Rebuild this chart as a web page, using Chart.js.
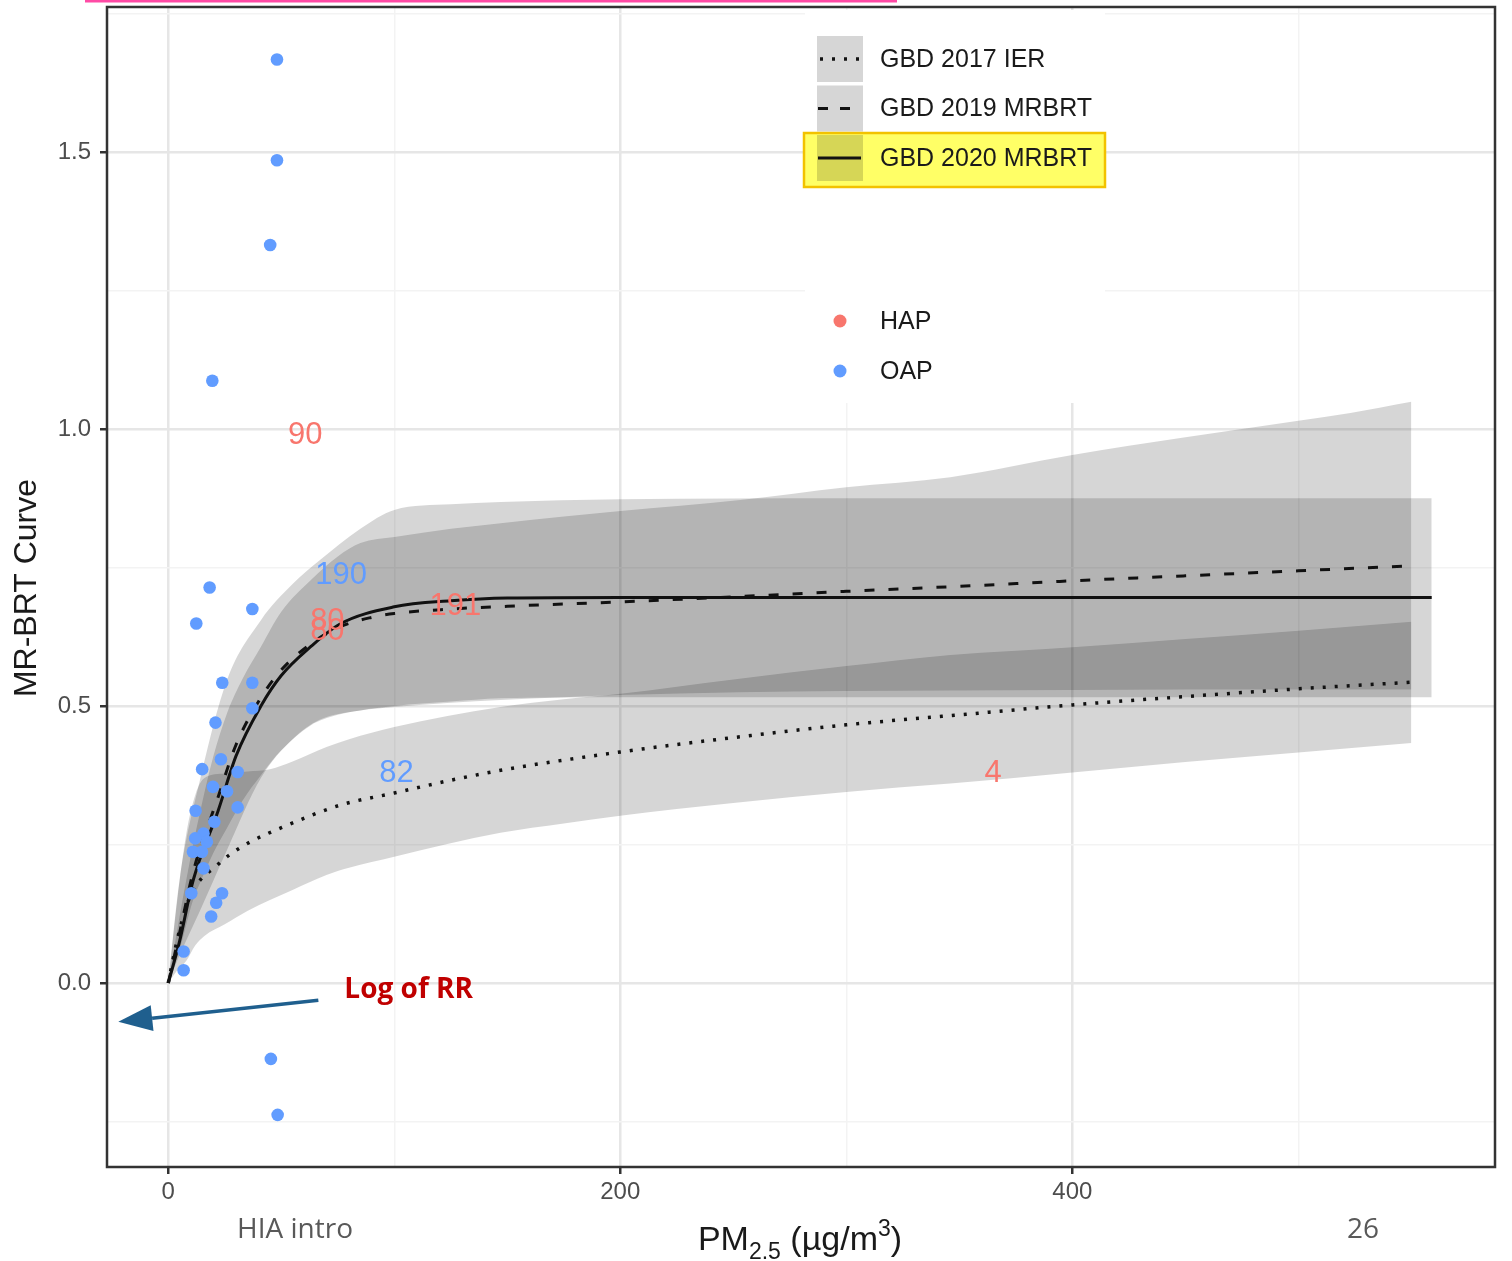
<!DOCTYPE html>
<html>
<head>
<meta charset="utf-8">
<script src="https://cdn.jsdelivr.net/npm/chart.js@4.4.1/dist/chart.umd.min.js"></script>
<style>
html,body{margin:0;padding:0;background:#fff;}
#wrap{position:relative;width:1512px;height:1261px;}
</style>
</head>
<body>
<div id="wrap"><canvas id="c" width="1512" height="1261"></canvas></div>
<script>
// ---------------- DATA ----------------
// OAP study points (PM2.5, log RR)
const oapX = [48.1, 48.1, 45.1, 19.5, 18.3, 12.4, 37.2, 23.9, 37.2, 37.2, 20.9, 23.3, 15.0, 30.7, 19.8, 26.0, 12.1, 30.7, 20.4, 15.6, 11.9, 17.1, 10.9, 14.9, 15.6, 10.2, 23.8, 21.2, 19.0, 6.8, 6.8, 45.4, 48.4];
const oapY = [1.667, 1.485, 1.332, 1.087, 0.714, 0.649, 0.675, 0.542, 0.542, 0.496, 0.470, 0.404, 0.386, 0.381, 0.354, 0.346, 0.311, 0.317, 0.291, 0.270, 0.261, 0.255, 0.237, 0.237, 0.207, 0.162, 0.162, 0.145, 0.120, 0.057, 0.023, -0.137, -0.238];
// HAP study points (none visible as dots)
const hapX = [];
const hapY = [];

// Curves
const ierX = [0, 3, 6, 10, 15, 20, 27, 36, 51, 76, 100, 125, 150, 200, 250, 300, 350, 400, 450, 500, 550];
const ierY = [0, 0.06, 0.11, 0.16, 0.19, 0.207, 0.231, 0.254, 0.282, 0.321, 0.343, 0.366, 0.386, 0.417, 0.443, 0.466, 0.484, 0.502, 0.517, 0.531, 0.543];
const mr19X = [0, 5, 11, 22, 30, 41, 50, 63, 76, 90, 100, 125, 150, 200, 250, 300, 350, 400, 450, 500, 550];
const mr19Y = [0, 0.09, 0.2, 0.335, 0.43, 0.515, 0.565, 0.612, 0.643, 0.66, 0.667, 0.675, 0.68, 0.688, 0.697, 0.707, 0.716, 0.726, 0.735, 0.744, 0.753];
const mr20X = [0, 5, 11, 22, 30, 41, 50, 63, 76, 100, 125, 150, 200, 300, 400, 559];
const mr20Y = [0, 0.075, 0.185, 0.31, 0.41, 0.50, 0.555, 0.607, 0.648, 0.679, 0.690, 0.695, 0.696, 0.696, 0.696, 0.696];

// Uncertainty bands
const ierBandX  = [0, 4, 8, 12, 16, 25, 35, 45, 55, 70, 80, 100, 147, 175, 200, 250, 300, 346, 400, 450, 500, 550];
const ierBandHi = [0, 0.15, 0.27, 0.34, 0.37, 0.378, 0.382, 0.386, 0.40, 0.426, 0.44, 0.462, 0.498, 0.512, 0.522, 0.548, 0.572, 0.592, 0.606, 0.621, 0.636, 0.652];
const ierBandLo = [0, 0.023, 0.04, 0.068, 0.085, 0.106, 0.13, 0.15, 0.168, 0.195, 0.208, 0.228, 0.271, 0.288, 0.302, 0.325, 0.345, 0.36, 0.38, 0.399, 0.416, 0.433];

const mr19BandX  = [0, 5, 11, 14, 20, 26, 33, 41, 50, 63, 75, 85, 100, 125, 147, 175, 200, 253, 300, 346, 400, 450, 500, 523, 550];
const mr19BandHi = [0, 0.12, 0.25, 0.307, 0.41, 0.487, 0.55, 0.607, 0.67, 0.727, 0.77, 0.794, 0.805, 0.82, 0.83, 0.842, 0.852, 0.872, 0.895, 0.913, 0.953, 0.985, 1.015, 1.029, 1.049];
const mr19BandLo = [0, 0.06, 0.15, 0.18, 0.235, 0.28, 0.33, 0.375, 0.42, 0.465, 0.484, 0.492, 0.498, 0.506, 0.511, 0.516, 0.52, 0.525, 0.527, 0.528, 0.529, 0.53, 0.53, 0.53, 0.53];

const mr20BandX  = [0, 5, 14, 26, 41, 55, 67, 85, 100, 125, 147, 200, 300, 559];
const mr20BandHi = [0, 0.186, 0.366, 0.547, 0.655, 0.72, 0.763, 0.82, 0.854, 0.864, 0.868, 0.873, 0.875, 0.875];
const mr20BandLo = [0, 0.05, 0.13, 0.24, 0.37, 0.44, 0.475, 0.492, 0.50, 0.508, 0.514, 0.516, 0.516, 0.516];

// Study-count text labels
const labelText  = ['90', '190', '80', '80', '191', '82', '4'];
const labelX     = [60.6, 76.5, 70.4, 70.4, 127, 101, 365];
const labelY     = [0.989, 0.736, 0.652, 0.634, 0.679, 0.379, 0.379];
const labelGroup = ['HAP', 'OAP', 'HAP', 'HAP', 'HAP', 'OAP', 'HAP'];

// Axis ticks
const xTicks      = [0, 100, 200, 300, 400, 500];
const xTickLabels = ['0', '', '200', '', '400', ''];
const yTicks      = [-0.25, 0, 0.25, 0.5, 0.75, 1.0, 1.25, 1.5, 1.75];
const yTickLabels = ['', '0.0', '', '0.5', '', '1.0', '', '1.5', ''];

// Legend entries
const curveLegend = ['GBD 2017 IER', 'GBD 2019 MRBRT', 'GBD 2020 MRBRT'];
const groupLegend = ['HAP', 'OAP'];

// Annotation
const arrowFrom = [66.4, -0.031];
const arrowTo   = [-22.1, -0.070];
const arrowText = 'Log of RR';
const arrowTextAt = [77.9, -0.0126];

// ---------------- STYLE ----------------
const HAP_COL = '#F8766D';
const OAP_COL = '#619CFF';
const BAND_FILL = 'rgba(0,0,0,0.16)';
const FONT = '"Liberation Sans", Arial, sans-serif';

const zip = (xs, ys) => xs.map((x, i) => ({x: x, y: ys[i]}));

function bandPair(xs, lo, hi) {
  return [
    {data: zip(xs, lo), borderWidth: 0, borderColor: 'rgba(0,0,0,0)', pointRadius: 0, fill: false, order: 5, cubicInterpolationMode: 'monotone'},
    {data: zip(xs, hi), borderWidth: 0, borderColor: 'rgba(0,0,0,0)', pointRadius: 0, fill: '-1', backgroundColor: BAND_FILL, order: 5, cubicInterpolationMode: 'monotone'}
  ];
}

const datasets = [
  ...bandPair(ierBandX, ierBandLo, ierBandHi),
  ...bandPair(mr19BandX, mr19BandLo, mr19BandHi),
  ...bandPair(mr20BandX, mr20BandLo, mr20BandHi),
  {label: curveLegend[0], data: zip(ierX, ierY), borderColor: '#111', borderWidth: 3.5, borderDash: [3, 9], borderCapStyle: 'butt', pointRadius: 0, fill: false, order: 2, cubicInterpolationMode: 'monotone'},
  {label: curveLegend[1], data: zip(mr19X, mr19Y), borderColor: '#111', borderWidth: 3, borderDash: [10, 14], pointRadius: 0, fill: false, order: 2, cubicInterpolationMode: 'monotone'},
  {label: curveLegend[2], data: zip(mr20X, mr20Y), borderColor: '#111', borderWidth: 3, pointRadius: 0, fill: false, order: 2, cubicInterpolationMode: 'monotone'},
  {label: 'OAP', data: zip(oapX, oapY), showLine: false, pointRadius: 6.3, pointHoverRadius: 6.3, pointBackgroundColor: OAP_COL, pointBorderWidth: 0, borderColor: OAP_COL, order: 1},
  {label: 'HAP', data: zip(hapX, hapY), showLine: false, pointRadius: 6.3, pointHoverRadius: 6.3, pointBackgroundColor: HAP_COL, pointBorderWidth: 0, borderColor: HAP_COL, order: 1}
];

const decor = {
  id: 'decor',
  beforeDatasetsDraw(chart) {
    const ctx = chart.ctx;
    ctx.save();
    ctx.fillStyle = '#ffffff';
    ctx.fillRect(805, 10, 300, 393);
    ctx.restore();
  },
  afterDatasetsDraw(chart) {
    const ctx = chart.ctx;
    const xs = chart.scales.x, ys = chart.scales.y;
    const a = chart.chartArea;
    ctx.save();
    ctx.beginPath();
    ctx.rect(a.left, a.top, a.right - a.left, a.bottom - a.top);
    ctx.clip();
    // study labels
    ctx.font = '31px ' + FONT;
    ctx.textAlign = 'center';
    ctx.textBaseline = 'middle';
    labelText.forEach((t, i) => {
      ctx.fillStyle = labelGroup[i] === 'HAP' ? HAP_COL : OAP_COL;
      ctx.fillText(t, xs.getPixelForValue(labelX[i]), ys.getPixelForValue(labelY[i]));
    });
    // arrow
    const x1 = xs.getPixelForValue(arrowFrom[0]), y1 = ys.getPixelForValue(arrowFrom[1]);
    const x2 = xs.getPixelForValue(arrowTo[0]), y2 = ys.getPixelForValue(arrowTo[1]);
    const ang = Math.atan2(y2 - y1, x2 - x1);
    const hl = 34, hw = 13;
    const bx = x2 - hl * Math.cos(ang), by = y2 - hl * Math.sin(ang);
    ctx.strokeStyle = '#1f5f8e';
    ctx.fillStyle = '#1f5f8e';
    ctx.lineWidth = 3.5;
    ctx.beginPath();
    ctx.moveTo(x1, y1);
    ctx.lineTo(bx, by);
    ctx.stroke();
    ctx.beginPath();
    ctx.moveTo(x2, y2);
    ctx.lineTo(bx + hw * Math.sin(ang), by - hw * Math.cos(ang));
    ctx.lineTo(bx - hw * Math.sin(ang), by + hw * Math.cos(ang));
    ctx.closePath();
    ctx.fill();
    // arrow text
    ctx.font = 'bold 28px "Open Sans", "Noto Sans", sans-serif';
    ctx.fillStyle = '#c00000';
    ctx.textAlign = 'left';
    ctx.fillText(arrowText, xs.getPixelForValue(arrowTextAt[0]), ys.getPixelForValue(arrowTextAt[1]));
    ctx.restore();

    // panel border
    ctx.save();
    ctx.strokeStyle = '#333333';
    ctx.lineWidth = 2.5;
    ctx.strokeRect(a.left, a.top, a.right - a.left, a.bottom - a.top);
    ctx.restore();
  },
  afterDraw(chart) {
    const ctx = chart.ctx;
    ctx.save();
    // ---- curve legend ----
    const keyX = 817, keyW = 46, keyH = 46;
    const rowY = [59, 108.5, 158];
    ctx.font = '25px ' + FONT;
    ctx.textBaseline = 'middle';
    ctx.textAlign = 'left';
    rowY.forEach((cy) => {
      ctx.fillStyle = '#d6d6d6';
      ctx.fillRect(keyX, cy - keyH / 2, keyW, keyH);
    });
    // highlight (multiply like a highlighter)
    ctx.globalCompositeOperation = 'multiply';
    ctx.fillStyle = '#ffff66';
    ctx.fillRect(804, 133, 301, 54);
    ctx.globalCompositeOperation = 'source-over';
    const dashes = [[3, 9], [10, 12], []];
    rowY.forEach((cy, i) => {
      ctx.strokeStyle = '#111';
      ctx.lineWidth = i === 0 ? 3.5 : 3;
      ctx.setLineDash(dashes[i]);
      ctx.beginPath();
      ctx.moveTo(i === 0 ? 820 : 818, cy);
      ctx.lineTo(861, cy);
      ctx.stroke();
      ctx.setLineDash([]);
      ctx.fillStyle = '#1a1a1a';
      ctx.fillText(curveLegend[i], 880, cy + 1);
    });
    ctx.strokeStyle = '#f2c200';
    ctx.lineWidth = 2.5;
    ctx.strokeRect(804, 133, 301, 54);

    // ---- group legend ----
    const gY = [321, 371];
    groupLegend.forEach((g, i) => {
      ctx.fillStyle = g === 'HAP' ? HAP_COL : OAP_COL;
      ctx.beginPath();
      ctx.arc(840, gY[i], 6.5, 0, Math.PI * 2);
      ctx.fill();
      ctx.fillStyle = '#1a1a1a';
      ctx.fillText(g, 880, gY[i] + 1);
    });

    // ---- y title ----
    ctx.save();
    ctx.translate(27, 588);
    ctx.rotate(-Math.PI / 2);
    ctx.font = '32px ' + FONT;
    ctx.fillStyle = '#1a1a1a';
    ctx.textAlign = 'center';
    ctx.textBaseline = 'middle';
    ctx.fillText('MR-BRT Curve', 0, 0);
    ctx.restore();

    // ---- x title: PM2.5 (µg/m3) ----
    const big = '34px ' + FONT, small = '23px ' + FONT;
    const parts = [
      {t: 'PM', f: big, dy: 0},
      {t: '2.5', f: small, dy: 9},
      {t: ' (\u00b5g/m', f: big, dy: 0},
      {t: '3', f: small, dy: -14},
      {t: ')', f: big, dy: 0}
    ];
    let total = 0;
    parts.forEach(p => { ctx.font = p.f; p.w = ctx.measureText(p.t).width; total += p.w; });
    let px = 800 - total / 2;
    const base = 1250;
    ctx.fillStyle = '#1a1a1a';
    ctx.textAlign = 'left';
    ctx.textBaseline = 'alphabetic';
    parts.forEach(p => { ctx.font = p.f; ctx.fillText(p.t, px, base + p.dy); px += p.w; });

    // ---- slide footer ----
    ctx.font = '28px "Open Sans", "Noto Sans", sans-serif';
    ctx.fillStyle = '#595959';
    ctx.textAlign = 'center';
    ctx.textBaseline = 'middle';
    ctx.fillText('HIA intro', 295, 1230);
    ctx.fillText('26', 1363, 1230);

    // ---- pink slide line at top ----
    ctx.strokeStyle = '#ff4aa5';
    ctx.lineWidth = 3;
    ctx.beginPath();
    ctx.moveTo(85, 1);
    ctx.lineTo(897, 1);
    ctx.stroke();
    ctx.restore();
  }
};

const isMajorX = i => xTickLabels[i] !== '';
const isMajorY = i => yTickLabels[i] !== '';

new Chart(document.getElementById('c'), {
  type: 'line',
  data: {datasets: datasets},
  options: {
    responsive: false,
    animation: false,
    devicePixelRatio: 1,
    events: [],
    layout: {padding: {top: 7, right: 17, left: 0, bottom: 0}},
    plugins: {legend: {display: false}, tooltip: {enabled: false}},
    scales: {
      x: {
        type: 'linear',
        min: -27.1,
        max: 587,
        afterBuildTicks: ax => { ax.ticks = xTicks.map(v => ({value: v})); },
        afterFit: s => { s.height = 94; s.paddingLeft = 0; s.paddingRight = 0; },
        ticks: {
          autoSkip: false, maxRotation: 0, includeBounds: false,
          callback: (v, i) => xTickLabels[i],
          color: '#4d4d4d', font: {family: FONT, size: 24}, padding: 4
        },
        grid: {
          color: c => isMajorX(c.index) ? '#e6e6e6' : '#f3f3f3',
          lineWidth: c => isMajorX(c.index) ? 2.5 : 1.5,
          tickColor: c => isMajorX(c.index) ? '#333333' : 'rgba(0,0,0,0)',
          tickWidth: 2.5,
          tickLength: 7,
          drawTicks: true
        },
        border: {display: false}
      },
      y: {
        type: 'linear',
        min: -0.3321,
        max: 1.7617,
        afterBuildTicks: ax => { ax.ticks = yTicks.map(v => ({value: v})); },
        afterFit: s => { s.width = 107; s.paddingTop = 0; s.paddingBottom = 0; },
        ticks: {
          autoSkip: false, includeBounds: false,
          callback: (v, i) => yTickLabels[i],
          color: '#4d4d4d', font: {family: FONT, size: 24}, padding: 9
        },
        grid: {
          color: c => isMajorY(c.index) ? '#e6e6e6' : '#f3f3f3',
          lineWidth: c => isMajorY(c.index) ? 2.5 : 1.5,
          tickColor: c => isMajorY(c.index) ? '#333333' : 'rgba(0,0,0,0)',
          tickWidth: 2.5,
          tickLength: 7,
          drawTicks: true
        },
        border: {display: false}
      }
    }
  },
  plugins: [decor]
});
</script>
</body>
</html>
